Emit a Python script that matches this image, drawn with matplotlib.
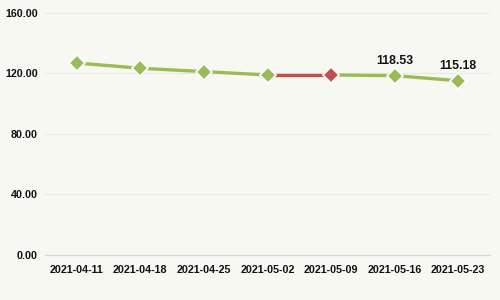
import matplotlib
matplotlib.use("Agg")
import matplotlib.pyplot as plt
from matplotlib import font_manager as fm

dates = ["2021-04-11", "2021-04-18", "2021-04-25", "2021-05-02", "2021-05-09", "2021-05-16", "2021-05-23"]
values = [126.9, 123.4, 121.2, 119.0, 119.0, 118.53, 115.18]
highlight = 4  # red point index
labeled = [5, 6]
yticks = [0, 40, 80, 120, 160]

GREEN = "#9bbb59"
RED = "#c0504d"
BG = "#f7f8f2"

bold_path = None
for f in fm.fontManager.ttflist:
    if f.name == 'Liberation Sans' and 'Narrow' not in f.fname and f.weight in (700, 'bold') and f.style == 'normal':
        bold_path = f.fname
        break

def fp(size):
    if bold_path:
        return fm.FontProperties(fname=bold_path, size=size)
    return fm.FontProperties(family='DejaVu Sans', weight='bold', size=size)

fig = plt.figure(figsize=(5, 3), dpi=100, facecolor=BG)
ax = fig.add_axes([0.09, 0.15, 0.89, 0.807], facecolor=BG)

x = list(range(len(dates)))
for i in range(len(x) - 1):
    col = RED if i + 1 == highlight else GREEN
    ax.plot([x[i], x[i + 1]], [values[i], values[i + 1]], color=col, lw=2.4,
            solid_capstyle='butt', zorder=2)
for i in x:
    col = RED if i == highlight else GREEN
    ax.plot(x[i], values[i], marker='D', ms=8, color=col, mec='white', mew=1.2, zorder=3)
for i in labeled:
    ax.annotate(f"{values[i]:.2f}", (x[i], values[i]), xytext=(0, 6.5), textcoords='offset points',
                ha='center', va='bottom', fontproperties=fp(8.8), color='#111111')

ax.set_xlim(-0.5, len(dates) - 0.5)
ax.set_ylim(0, 160)
ax.set_yticks(yticks)
ax.set_yticklabels([f"{v:.2f}" for v in yticks])
ax.set_xticks(x)
ax.set_xticklabels(dates)
ax.grid(axis='y', color='#e8e8e4', lw=0.8)
ax.set_axisbelow(True)
for s in ['top', 'right', 'left']:
    ax.spines[s].set_visible(False)
ax.spines['bottom'].set_color('#d9d9d9')
ax.spines['bottom'].set_linewidth(1.0)
ax.tick_params(length=0, colors='#111111')
ax.tick_params(axis='x', pad=7)
ax.tick_params(axis='y', pad=5)
for lab in ax.get_xticklabels() + ax.get_yticklabels():
    lab.set_fontproperties(fp(7.7))

fig.savefig("out.png", dpi=100, facecolor=BG)
